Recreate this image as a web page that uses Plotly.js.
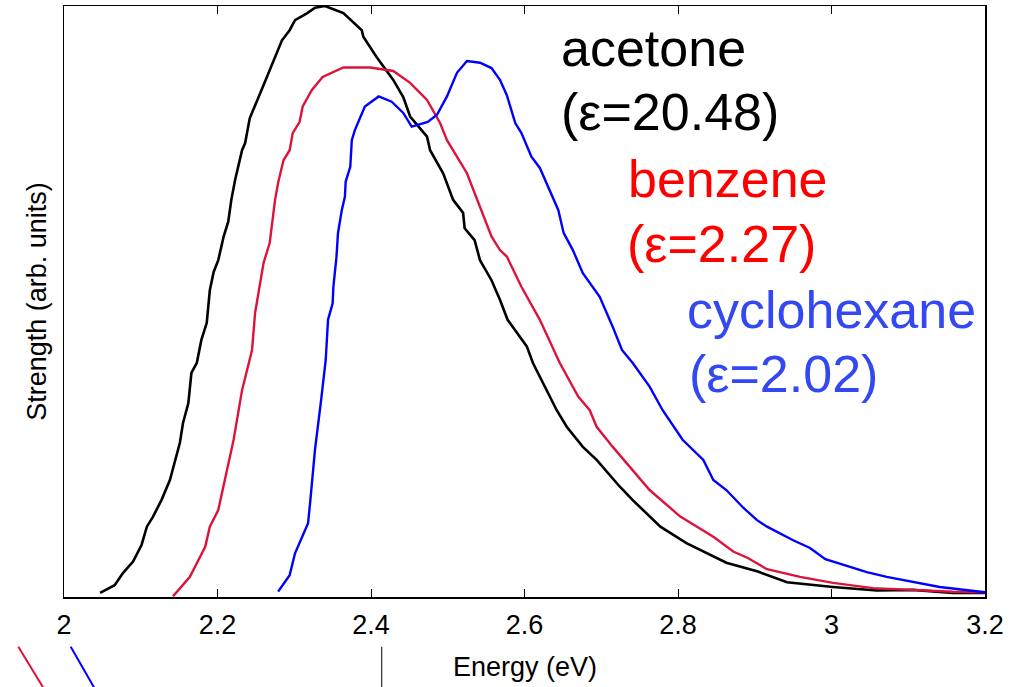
<!DOCTYPE html>
<html>
<head>
<meta charset="utf-8">
<script src="https://cdn.plot.ly/plotly-3.0.1.min.js"></script>
<style>html,body{margin:0;padding:0;background:#fff;}#chart{width:1019px;height:687px;}</style>
</head>
<body>
<div id="chart"></div>
<script>
// Energy (eV) and strength (arb. units)
const acetoneX = [2.047,2.066,2.077,2.090,2.101,2.108,2.116,2.127,2.138,2.145,2.151,2.155,2.162,2.166,2.173,2.179,2.186,2.190,2.195,2.201,2.208,2.214,2.218,2.223,2.232,2.236,2.242,2.259,2.278,2.284,2.294,2.301,2.317,2.327,2.340,2.364,2.388,2.390,2.407,2.429,2.442,2.451,2.473,2.477,2.494,2.507,2.520,2.522,2.535,2.542,2.557,2.568,2.578,2.596,2.603,2.611,2.624,2.642,2.655,2.676,2.694,2.724,2.741,2.777,2.811,2.837,2.863,2.904,2.942,3.002,3.059,3.106,3.158,3.200];
const acetoneY = [0.007,0.020,0.041,0.060,0.088,0.119,0.136,0.164,0.198,0.232,0.261,0.294,0.328,0.379,0.396,0.435,0.464,0.519,0.550,0.570,0.610,0.635,0.672,0.706,0.756,0.768,0.810,0.863,0.922,0.942,0.959,0.976,0.988,0.997,1.000,0.988,0.959,0.948,0.914,0.875,0.846,0.813,0.779,0.756,0.717,0.672,0.650,0.624,0.604,0.570,0.536,0.503,0.469,0.438,0.424,0.396,0.362,0.316,0.288,0.254,0.232,0.187,0.164,0.119,0.091,0.074,0.058,0.043,0.025,0.017,0.011,0.012,0.007,0.007];

const benzeneX = [2.142,2.164,2.184,2.190,2.201,2.212,2.221,2.232,2.245,2.249,2.260,2.268,2.275,2.279,2.286,2.294,2.298,2.307,2.311,2.323,2.337,2.364,2.399,2.429,2.451,2.473,2.490,2.499,2.507,2.525,2.557,2.568,2.577,2.596,2.620,2.631,2.646,2.670,2.685,2.694,2.715,2.763,2.803,2.846,2.872,2.891,2.916,2.959,3.002,3.054,3.106,3.158,3.200];
const benzeneY = [0.001,0.034,0.085,0.119,0.147,0.215,0.266,0.350,0.418,0.481,0.565,0.599,0.672,0.701,0.739,0.756,0.785,0.804,0.830,0.858,0.880,0.896,0.896,0.890,0.870,0.841,0.802,0.773,0.756,0.717,0.610,0.587,0.576,0.525,0.469,0.438,0.396,0.339,0.316,0.288,0.254,0.181,0.136,0.102,0.077,0.066,0.047,0.034,0.024,0.015,0.012,0.009,0.008];

const cyclohexaneX = [2.279,2.294,2.301,2.318,2.321,2.327,2.335,2.341,2.344,2.350,2.351,2.355,2.357,2.362,2.366,2.367,2.373,2.375,2.379,2.392,2.410,2.427,2.442,2.453,2.474,2.486,2.499,2.512,2.525,2.542,2.557,2.568,2.577,2.588,2.596,2.609,2.620,2.631,2.644,2.651,2.663,2.676,2.698,2.715,2.727,2.741,2.763,2.780,2.806,2.833,2.846,2.863,2.885,2.903,2.916,2.950,2.972,2.992,3.011,3.046,3.072,3.106,3.141,3.200];
const cyclohexaneY = [0.009,0.037,0.074,0.125,0.164,0.249,0.333,0.401,0.469,0.497,0.525,0.575,0.616,0.655,0.677,0.703,0.728,0.773,0.790,0.830,0.847,0.838,0.819,0.796,0.804,0.816,0.847,0.887,0.907,0.904,0.895,0.875,0.849,0.802,0.785,0.745,0.726,0.694,0.655,0.616,0.587,0.548,0.508,0.457,0.418,0.396,0.356,0.316,0.266,0.232,0.198,0.181,0.151,0.130,0.119,0.096,0.083,0.064,0.056,0.042,0.034,0.025,0.017,0.008];

const xTickVals = [2, 2.2, 2.4, 2.6, 2.8, 3, 3.2];
const xTickText = ["2", "2.2", "2.4", "2.6", "2.8", "3", "3.2"];

const labelLines = ["acetone", "(ε=20.48)", "benzene", "(ε=2.27)", "cyclohexane", "(ε=2.02)"];

const FONT = "Liberation Sans, Arial, Helvetica, sans-serif";

const traces = [
  {x: acetoneX, y: acetoneY, mode: "lines", line: {color: "#000000", width: 2.6}, hoverinfo: "skip"},
  {x: benzeneX, y: benzeneY, mode: "lines", line: {color: "#DC143C", width: 2.4}, hoverinfo: "skip"},
  {x: cyclohexaneX, y: cyclohexaneY, mode: "lines", line: {color: "#0000FF", width: 2.4}, hoverinfo: "skip"}
];

const labelPos = [
  {x: 0.5375, y: 0.929, c: "#000000"},
  {x: 0.5375, y: 0.821, c: "#000000"},
  {x: 0.6097, y: 0.708, c: "#FF0000"},
  {x: 0.6096, y: 0.598, c: "#FF0000"},
  {x: 0.6743, y: 0.486, c: "#3348F2"},
  {x: 0.6764, y: 0.378, c: "#3348F2"}
];

const annotations = labelLines.map((t, i) => ({
  text: t, xref: "paper", yref: "paper", x: labelPos[i].x, y: labelPos[i].y,
  xanchor: "left", yanchor: "middle", showarrow: false,
  font: {family: FONT, size: 52, color: labelPos[i].c}
}));

annotations.push({
  text: "Energy (eV)", xref: "paper", yref: "paper", x: 0.5, y: -0.119,
  xanchor: "center", yanchor: "middle", showarrow: false,
  font: {family: FONT, size: 27, color: "#000"}
});

const shapes = [
  {type: "line", xref: "paper", yref: "paper", x0: -0.0496, y0: -0.0841, x1: -0.0180, y1: -0.165, line: {color: "#DC143C", width: 2}},
  {type: "line", xref: "paper", yref: "paper", x0: 0.0073, y0: -0.0841, x1: 0.0370, y1: -0.165, line: {color: "#0000FF", width: 2}},
  {type: "line", xref: "paper", yref: "paper", x0: 0.345, y0: -0.0841, x1: 0.345, y1: -0.165, line: {color: "#000000", width: 1}}
];

const layout = {
  width: 1019, height: 687,
  margin: {l: 64, r: 34, t: 6, b: 90},
  paper_bgcolor: "#fff", plot_bgcolor: "#fff",
  showlegend: false,
  xaxis: {
    range: [2, 3.2], tickvals: xTickVals, ticktext: xTickText,
    ticks: "inside", ticklen: 8, tickwidth: 1, tickcolor: "#000",
    showline: true, linecolor: "#000", linewidth: 1.5, mirror: "ticks",
    showgrid: false, zeroline: false,
    tickfont: {family: FONT, size: 27, color: "#000"},
    ticklabelstandoff: 3
  },
  yaxis: {
    range: [0, 1.0], showticklabels: false, ticks: "",
    showline: true, linecolor: "#000", linewidth: 1.5, mirror: true,
    showgrid: false, zeroline: false,
    title: {text: "Strength (arb. units)", font: {family: FONT, size: 27, color: "#000"}, standoff: 8}
  },
  annotations: annotations,
  shapes: shapes
};

Plotly.newPlot("chart", traces, layout, {displayModeBar: false, staticPlot: true});
</script>
</body>
</html>
